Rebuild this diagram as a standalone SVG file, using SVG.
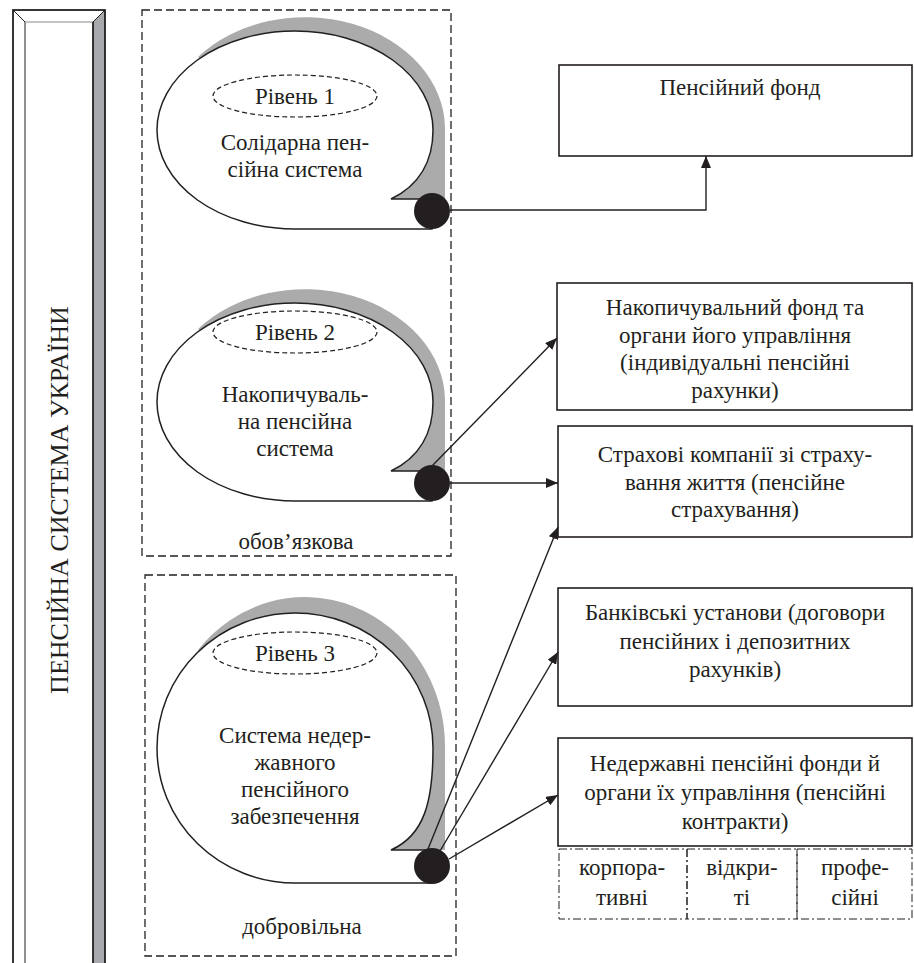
<svg xmlns="http://www.w3.org/2000/svg" width="914" height="963" viewBox="0 0 914 963" font-family="'Liberation Serif', 'Times New Roman', serif">
<defs>
<style>
text{font-family:'Liberation Serif','Times New Roman',serif;font-size:23px;fill:#231f20;text-anchor:middle}
.title{font-size:26px}
.box{fill:#fff;stroke:#231f20;stroke-width:1.6}
.dbox{fill:none;stroke:#231f20;stroke-width:1.3;stroke-dasharray:8 4}
.ddbox{fill:none;stroke:#231f20;stroke-width:1;stroke-dasharray:8 3 2 3}
.lvl{fill:none;stroke:#231f20;stroke-width:1.2;stroke-dasharray:5 3}
.bub{fill:#fff;stroke:#231f20;stroke-width:1.5}
.sh{fill:#ababab}
.dot{fill:#231f20}
.con{fill:none;stroke:#231f20;stroke-width:1.4}
</style>
<marker id="ah" viewBox="0 0 12 10" refX="12" refY="5" markerWidth="12" markerHeight="10" markerUnits="userSpaceOnUse" orient="auto">
<path d="M0,0 L12,5 L0,10 Z" fill="#231f20"/>
</marker>
</defs>
<rect width="914" height="963" fill="#fff"/>

<g id="title-bar">
<polygon points="93,22 105,10 105,963 93,963" fill="#a7a9ac"/>
<rect x="13" y="10" width="92" height="960" fill="none" stroke="#231f20" stroke-width="1.8"/>
<line x1="25" y1="22" x2="25" y2="963" stroke="#231f20" stroke-width="1"/>
<line x1="25" y1="22" x2="93" y2="22" stroke="#8a8a8a" stroke-width="1.2"/>
<line x1="93" y1="22" x2="93" y2="963" stroke="#231f20" stroke-width="1.8"/>
<line x1="13" y1="10" x2="25" y2="22" stroke="#231f20" stroke-width="1"/>
<line x1="105" y1="10" x2="93" y2="22" stroke="#231f20" stroke-width="1"/>
<text class="title" transform="translate(68,500) rotate(-90)">ПЕНСІЙНА СИСТЕМА УКРАЇНИ</text>
</g>

<g id="group-mandatory">
<rect class="dbox" x="142" y="10" width="309" height="546"/>
<text x="296" y="549">обов’язкова</text>
</g>
<g id="group-voluntary">
<rect class="dbox" x="145" y="575" width="311" height="381"/>
<text x="302" y="934">добровільна</text>
</g>

<g id="level1">
<path class="sh" d="M198,57 A140 112 0 0 1 445 128 L445 199 L391 199 L300 130 Z"/>
<path class="bub" d="M391,199 L432,199 L432,229 L295,229 A138 99 0 0 1 157 130 A138 99 0 0 1 295 31 A138 99 0 0 1 433 130 C433,160 420,185 391,199 Z"/>
<ellipse class="lvl" cx="295" cy="96" rx="82" ry="21"/>
<text x="295" y="104">Рівень 1</text>
<text x="295" y="150">Солідарна пен-</text>
<text x="295" y="177">сійна система</text>
<circle class="dot" cx="432" cy="211" r="18"/>
</g>

<g id="level2">
<path class="sh" d="M198,329 A140 112 0 0 1 445 400 L445 471 L391 471 L300 402 Z"/>
<path class="bub" d="M391,471 L432,471 L432,501 L295,501 A138 99 0 0 1 157 402 A138 99 0 0 1 295 303 A138 99 0 0 1 433 402 C433,432 420,457 391,471 Z"/>
<ellipse class="lvl" cx="295" cy="332" rx="82" ry="21"/>
<text x="295" y="340">Рівень 2</text>
<text x="295" y="402">Накопичуваль-</text>
<text x="295" y="429">на пенсійна</text>
<text x="295" y="456">система</text>
<circle class="dot" cx="432" cy="483" r="18"/>
</g>

<g id="level3">
<path class="sh" d="M198,650 A140 149 0 0 1 445 746 L445 850 L391 850 L300 748 Z"/>
<path class="bub" d="M391,850 L432,850 L432,883 L295,883 A138 135 0 0 1 157 748 A138 135 0 0 1 295 613 A138 135 0 0 1 433 748 C433,800 425,835 391,850 Z"/>
<ellipse class="lvl" cx="295" cy="653" rx="82" ry="21"/>
<text x="295" y="661">Рівень 3</text>
<text x="295" y="743">Система недер-</text>
<text x="295" y="770">жавного</text>
<text x="295" y="797">пенсійного</text>
<text x="295" y="824">забезпечення</text>
<circle class="dot" cx="432" cy="866" r="18"/>
</g>

<g id="pension-fund">
<rect class="box" x="559" y="65" width="353" height="91"/>
<text x="740" y="95">Пенсійний фонд</text>
</g>
<g id="accumulation-fund">
<rect class="box" x="557" y="283" width="355" height="127"/>
<text x="735" y="315">Накопичувальний фонд та</text>
<text x="735" y="343">органи його управління</text>
<text x="735" y="370">(індивідуальні пенсійні</text>
<text x="735" y="398">рахунки)</text>
</g>
<g id="insurance">
<rect class="box" x="558" y="426" width="354" height="111"/>
<text x="735" y="462">Страхові компанії зі страху-</text>
<text x="735" y="490">вання життя (пенсійне</text>
<text x="735" y="517">страхування)</text>
</g>
<g id="banks">
<rect class="box" x="558" y="588" width="354" height="118"/>
<text x="735" y="620">Банківські установи (договори</text>
<text x="735" y="649">пенсійних і депозитних</text>
<text x="735" y="677">рахунків)</text>
</g>
<g id="npf">
<rect class="box" x="558" y="738" width="354" height="108"/>
<text x="735" y="771">Недержавні пенсійні фонди й</text>
<text x="735" y="800">органи їх управління (пенсійні</text>
<text x="735" y="829">контракти)</text>
</g>
<g id="npf-types">
<rect class="ddbox" x="559" y="849" width="128" height="70"/>
<rect class="ddbox" x="687" y="849" width="110" height="70"/>
<rect class="ddbox" x="797" y="849" width="115" height="70"/>
<text x="622" y="875">корпора-</text>
<text x="622" y="905">тивні</text>
<text x="742" y="875">відкри-</text>
<text x="742" y="905">ті</text>
<text x="855" y="875">профе-</text>
<text x="855" y="905">сійні</text>
</g>

<g id="connectors">
<path class="con" d="M450,210 L706,210 L706,156" marker-end="url(#ah)"/>
<path class="con" d="M432,466 L557,338" marker-end="url(#ah)"/>
<path class="con" d="M450,483 L558,483" marker-end="url(#ah)"/>
<path class="con" d="M428,849 L558,527" marker-end="url(#ah)"/>
<path class="con" d="M440,851 L558,652" marker-end="url(#ah)"/>
<path class="con" d="M449,859 L558,795" marker-end="url(#ah)"/>
</g>
</svg>
